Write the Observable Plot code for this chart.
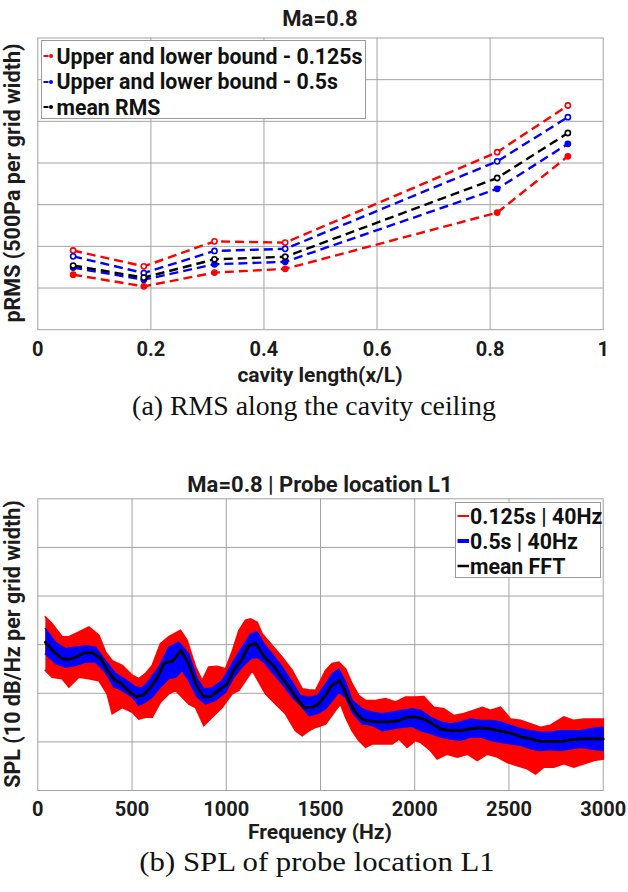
<!DOCTYPE html>
<html><head><meta charset="utf-8">
<script src="https://cdn.jsdelivr.net/npm/d3@7"></script>
<script src="https://cdn.jsdelivr.net/npm/@observablehq/plot@0.6"></script>
<style>
html,body{margin:0;padding:0;background:#fff;}
#page{position:relative;width:628px;height:892px;overflow:hidden;font-family:Roboto,"Noto Sans",sans-serif;background:#fff;}
.t{position:absolute;white-space:nowrap;font-weight:bold;color:#1c1c1c;font-size:21px;}
.c{transform:translate(-50%,-50%);}
.v{transform:translate(-50%,-50%) rotate(-90deg);}
.cap{position:absolute;white-space:nowrap;font-family:"Liberation Serif",serif;font-size:27px;color:#111;}
.plotbox{position:absolute;left:0;}
.legend{position:absolute;background:#fff;border:1px solid #9a9a9a;box-sizing:border-box;}
.lrow{position:absolute;left:0;height:24px;display:flex;align-items:center;font-weight:bold;font-size:21.3px;color:#111;white-space:nowrap;}
.lrow svg{flex:none;}
</style></head>
<body><div id="page"></div>
<script>
// ---------------- data: panel (a) RMS along the cavity ceiling ----------------
const cavityX = [0.0625, 0.1875, 0.3125, 0.4375, 0.8125, 0.9375];
const rmsUpper0125 = [1.90, 1.52, 2.12, 2.09, 4.26, 5.38];
const rmsLower0125 = [1.32, 1.04, 1.37, 1.46, 2.81, 4.16];
const rmsUpper05 = [1.76, 1.36, 1.89, 1.94, 4.04, 5.10];
const rmsLower05 = [1.49, 1.20, 1.57, 1.63, 3.38, 4.46];
const rmsMean = [1.54, 1.25, 1.69, 1.75, 3.64, 4.72];
const rmsXTicks = [0, 0.2, 0.4, 0.6, 0.8, 1];
const rmsYTicks = [0, 1, 2, 3, 4, 5, 6, 7];
const rmsLegend = ["Upper and lower bound - 0.125s", "Upper and lower bound - 0.5s", "mean RMS"];

// ---------------- data: panel (b) SPL of probe location L1 ----------------
const splUpper0125 = [[40,3.57],[76,3.43],[129,3.16],[165,3.16],[218,3.26],[271,3.36],[324,3.19],[359,2.85],[395,2.67],[448,2.57],[501,2.37],[536,2.30],[571,2.40],[607,2.57],[651,3.02],[695,3.16],[757,3.29],[792,3.09],[837,2.54],[872,2.26],[907,2.54],[952,2.55],[996,2.50],[1031,2.85],[1067,3.29],[1102,3.50],[1129,3.53],[1164,3.46],[1190,3.22],[1244,2.98],[1297,2.74],[1350,2.47],[1403,2.09],[1438,2.07],[1474,2.06],[1527,2.47],[1562,2.61],[1597,2.64],[1633,2.50],[1668,2.19],[1703,1.95],[1739,1.85],[1792,1.85],[1845,1.89],[1898,1.82],[1951,1.92],[2004,1.92],[2048,1.93],[2101,1.71],[2155,1.68],[2208,1.54],[2261,1.58],[2314,1.65],[2358,1.71],[2402,1.65],[2455,1.71],[2508,1.47],[2561,1.44],[2614,1.37],[2667,1.30],[2720,1.34],[2791,1.51],[2844,1.44],[2898,1.47],[2951,1.47],[3000,1.47]];
const splLower0125 = [[40,2.47],[76,2.33],[129,2.30],[165,2.13],[218,2.33],[271,2.30],[324,2.26],[368,1.99],[395,1.58],[448,1.71],[501,1.61],[536,1.47],[571,1.51],[607,1.51],[651,1.82],[695,1.99],[731,2.06],[766,1.92],[801,1.78],[837,1.71],[881,1.34],[925,1.51],[978,1.71],[1031,1.99],[1067,2.06],[1102,2.26],[1138,2.47],[1173,2.23],[1208,1.99],[1261,1.78],[1314,1.58],[1367,1.23],[1403,1.13],[1438,1.23],[1474,1.30],[1527,1.37],[1580,1.65],[1606,1.78],[1633,1.51],[1668,1.23],[1703,1.03],[1739,0.89],[1774,0.96],[1827,0.96],[1880,0.96],[1916,1.06],[1960,0.89],[2004,1.03],[2031,0.99],[2084,0.82],[2119,0.65],[2172,0.75],[2226,0.69],[2279,0.75],[2332,0.62],[2385,0.75],[2438,0.69],[2491,0.58],[2544,0.51],[2597,0.45],[2641,0.34],[2685,0.48],[2738,0.48],[2791,0.55],[2844,0.48],[2898,0.55],[2951,0.62],[3000,0.65]];
const splUpper05 = [[40,3.33],[94,3.05],[147,2.92],[200,2.95],[253,2.98],[306,2.95],[359,2.67],[412,2.41],[465,2.28],[518,2.13],[554,2.11],[598,2.30],[642,2.54],[695,2.95],[748,3.05],[801,2.81],[846,2.30],[881,2.09],[925,2.11],[978,2.26],[1040,2.67],[1084,2.95],[1129,3.22],[1164,3.26],[1199,3.02],[1244,2.81],[1297,2.54],[1350,2.23],[1394,1.95],[1438,1.92],[1483,1.95],[1527,2.19],[1562,2.40],[1597,2.50],[1633,2.23],[1668,1.85],[1721,1.68],[1774,1.61],[1827,1.58],[1880,1.61],[1933,1.65],[1986,1.68],[2031,1.65],[2084,1.51],[2137,1.41],[2190,1.37],[2243,1.41],[2296,1.47],[2349,1.44],[2402,1.44],[2455,1.41],[2508,1.34],[2561,1.27],[2614,1.23],[2667,1.20],[2720,1.20],[2773,1.23],[2827,1.23],[2880,1.23],[2933,1.27],[3000,1.30]];
const splLower05 = [[40,2.81],[94,2.61],[147,2.54],[200,2.57],[253,2.64],[306,2.64],[359,2.43],[403,2.13],[448,2.06],[501,1.92],[536,1.75],[571,1.82],[607,1.92],[651,2.13],[695,2.30],[731,2.33],[766,2.47],[801,2.26],[846,1.92],[890,1.78],[943,1.85],[996,2.02],[1040,2.33],[1084,2.54],[1129,2.71],[1164,2.74],[1199,2.64],[1244,2.43],[1297,2.19],[1350,1.92],[1394,1.75],[1438,1.54],[1483,1.58],[1527,1.68],[1562,1.85],[1597,2.02],[1633,1.92],[1668,1.61],[1721,1.37],[1774,1.34],[1827,1.23],[1880,1.27],[1933,1.30],[1986,1.32],[2031,1.23],[2084,1.17],[2137,1.10],[2190,1.06],[2243,1.03],[2296,1.10],[2349,1.10],[2402,1.03],[2455,0.99],[2508,0.96],[2561,0.93],[2614,0.86],[2667,0.82],[2720,0.84],[2773,0.82],[2827,0.86],[2880,0.89],[2933,0.86],[3000,0.82]];
const splMean = [[40,3.05],[85,2.85],[130,2.71],[165,2.70],[200,2.74],[245,2.83],[290,2.83],[335,2.71],[370,2.47],[405,2.28],[440,2.21],[475,2.07],[520,1.93],[560,1.96],[600,2.13],[635,2.32],[670,2.62],[715,2.66],[760,2.88],[800,2.61],[845,2.13],[880,1.93],[915,1.93],[960,2.06],[1005,2.20],[1040,2.47],[1085,2.71],[1120,2.98],[1155,3.03],[1180,2.88],[1210,2.71],[1250,2.57],[1295,2.32],[1340,2.09],[1375,1.89],[1410,1.71],[1455,1.71],[1490,1.78],[1525,1.95],[1560,2.16],[1600,2.26],[1625,2.09],[1650,1.85],[1685,1.61],[1720,1.47],[1755,1.43],[1810,1.41],[1860,1.41],[1915,1.44],[1960,1.51],[2005,1.51],[2055,1.46],[2085,1.39],[2135,1.27],[2190,1.23],[2245,1.23],[2295,1.27],[2350,1.29],[2400,1.27],[2455,1.22],[2510,1.18],[2560,1.11],[2615,1.06],[2665,1.01],[2720,1.01],[2775,1.01],[2825,1.04],[2880,1.06],[2935,1.06],[3000,1.06]];
const splXTicks = [0, 500, 1000, 1500, 2000, 2500, 3000];
const splYTicks = [0, 1, 2, 3, 4, 5, 6];
const splLegend = ["0.125s | 40Hz", "0.5s | 40Hz", "mean FFT"];

// ---------------- texts ----------------
const titleA = "Ma=0.8", yLabelA = "pRMS (500Pa per grid width)", xLabelA = "cavity length(x/L)", captionA = "(a) RMS along the cavity ceiling";
const titleB = "Ma=0.8 | Probe location L1", yLabelB = "SPL (10 dB/Hz per grid width)", xLabelB = "Frequency (Hz)", captionB = "(b) SPL of probe location L1";

const RED = "#ff0000", BLUE = "#0000ff", BLACK = "#000000", GRID = "#a3a3a3";
const page = document.getElementById("page");

function addText(cls, txt, x, y, extra) {
  const d = document.createElement("div");
  d.className = cls; d.textContent = txt;
  d.style.left = x + "px"; d.style.top = y + "px";
  if (extra) Object.assign(d.style, extra);
  page.appendChild(d);
}

const axisStyle = {fontFamily: "Roboto, sans-serif", fontSize: "20px", fontWeight: "bold", color: "#1c1c1c", background: "transparent", overflow: "visible"};

// ---------------- panel (a) ----------------
const rmsSeries = [
  {vals: rmsUpper0125, color: RED, hollow: true},
  {vals: rmsLower0125, color: RED, hollow: false},
  {vals: rmsUpper05, color: BLUE, hollow: true},
  {vals: rmsLower05, color: BLUE, hollow: false},
  {vals: rmsMean, color: BLACK, hollow: true}
];
const rmsMarks = [
  Plot.ruleX(rmsXTicks.slice(1, -1), {stroke: GRID, strokeWidth: 1}),
  Plot.ruleY(rmsYTicks.slice(1, -1), {stroke: GRID, strokeWidth: 1}),
  Plot.frame({stroke: GRID, strokeWidth: 1})
];
for (const s of rmsSeries) {
  const rows = cavityX.map((x, i) => ({x, y: s.vals[i]}));
  rmsMarks.push(Plot.line(rows, {x: "x", y: "y", stroke: s.color, strokeWidth: 2.4, strokeDasharray: "9,5", strokeLinecap: "butt"}));
  rmsMarks.push(Plot.dot(rows, {x: "x", y: "y", r: 2.6, stroke: s.color, strokeWidth: 1.6, fill: s.hollow ? "#fff" : s.color}));
}
const plotA = Plot.plot({
  width: 628, height: 370,
  marginLeft: 37.3, marginRight: 25.3, marginTop: 37.5, marginBottom: 40.8,
  style: axisStyle,
  x: {domain: [0, 1], ticks: rmsXTicks, tickSize: 0, tickPadding: 12, tickFormat: d => String(+d.toFixed(1)), label: null},
  y: {domain: [0, 7], axis: null},
  marks: rmsMarks
});
const boxA = document.createElement("div");
boxA.className = "plotbox"; boxA.style.top = "0px";
boxA.appendChild(plotA); page.appendChild(boxA);

// ---------------- panel (b) ----------------
const poly = (up, lo) => up.concat(lo.slice().reverse()).map(([f, v]) => ({f, v}));
const plotB = Plot.plot({
  width: 628, height: 370,
  marginLeft: 37.3, marginRight: 25.3, marginTop: 38.3, marginBottom: 40,
  style: axisStyle,
  x: {domain: [0, 3000], ticks: splXTicks, tickSize: 0, tickPadding: 11, tickFormat: d => String(d), label: null},
  y: {domain: [0, 6], axis: null},
  marks: [
    Plot.ruleX(splXTicks.slice(1, -1), {stroke: GRID, strokeWidth: 1}),
    Plot.ruleY(splYTicks.slice(1, -1), {stroke: GRID, strokeWidth: 1}),
    Plot.frame({stroke: GRID, strokeWidth: 1}),
    Plot.line(poly(splUpper0125, splLower0125), {x: "f", y: "v", stroke: RED, fill: RED, strokeWidth: 1.8, strokeLinejoin: "miter", strokeMiterlimit: 3}),
    Plot.line(poly(splUpper05, splLower05), {x: "f", y: "v", stroke: BLUE, fill: BLUE, strokeWidth: 1.4, strokeLinejoin: "round"}),
    Plot.line(splMean.map(([f, v]) => ({f, v})), {x: "f", y: "v", stroke: BLACK, strokeWidth: 2.8})
  ]
});
const boxB = document.createElement("div");
boxB.className = "plotbox"; boxB.style.top = "460px";
boxB.appendChild(plotB); page.appendChild(boxB);

// ---------------- texts ----------------
addText("t c", titleA, 320, 18, {fontSize: "22px"});
addText("t v", yLabelA, 12, 183, {fontSize: "21.5px"});
addText("t c", xLabelA, 320, 375);
addText("cap", captionA, 314, 406, {transform: "translate(-50%,-50%) scaleX(1.03)"});
addText("t c", titleB, 320, 484, {fontSize: "22px"});
addText("t v", yLabelB, 12, 644, {fontSize: "21.5px"});
addText("t c", xLabelB, 320, 832);
addText("cap", captionB, 317, 862, {transform: "translate(-50%,-50%) scaleX(1.14)"});

// ---------------- legend (a) ----------------
const legA = document.createElement("div");
legA.className = "legend";
Object.assign(legA.style, {left: "40.5px", top: "40px", width: "325px", height: "79px"});
const legAColors = [RED, BLUE, BLACK];
rmsLegend.forEach((txt, i) => {
  const row = document.createElement("div");
  row.className = "lrow"; row.style.top = (3 + i * 25.5) + "px";
  row.innerHTML = `<svg width="15" height="10"><line x1="1.5" y1="5" x2="6.5" y2="5" stroke="${legAColors[i]}" stroke-width="2"/><circle cx="9" cy="5" r="2" fill="${legAColors[i]}"/></svg>`;
  const sp = document.createElement("span"); sp.textContent = txt; row.appendChild(sp);
  legA.appendChild(row);
});
page.appendChild(legA);

// ---------------- legend (b) ----------------
const legB = document.createElement("div");
legB.className = "legend";
Object.assign(legB.style, {left: "455px", top: "502px", width: "146px", height: "76px"});
const legBColors = [RED, BLUE, BLACK], legBW = [2, 4, 2.5];
splLegend.forEach((txt, i) => {
  const row = document.createElement("div");
  row.className = "lrow"; row.style.top = (1 + i * 25) + "px";
  row.innerHTML = `<svg width="14" height="10"><line x1="1.5" y1="5" x2="13" y2="5" stroke="${legBColors[i]}" stroke-width="${legBW[i]}"/></svg>`;
  const sp = document.createElement("span"); sp.textContent = txt; row.appendChild(sp);
  legB.appendChild(row);
});
page.appendChild(legB);
</script>
</body></html>
